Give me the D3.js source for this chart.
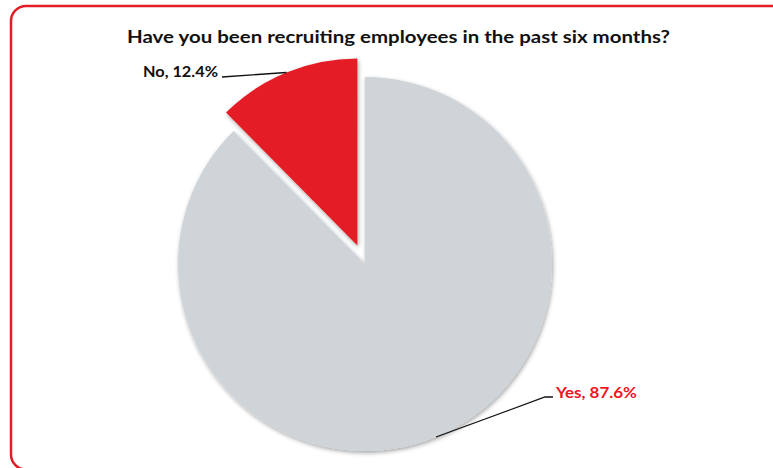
<!DOCTYPE html>
<html>
<head>
<meta charset="utf-8">
<script src="https://cdn.jsdelivr.net/npm/d3@7/dist/d3.min.js"></script>
<style>
  html, body { margin: 0; padding: 0; background: #fff; }
  svg { display: block; }
  text { font-family: Lato, "Open Sans", sans-serif; font-weight: bold; }
</style>
</head>
<body>
<svg id="chart" width="773" height="468"></svg>
<script>
// Survey answers
const categories = ["Yes", "No"];
const shares = [87.6, 12.4];
const sliceColors = ["#cfd4d8", "#e31d25"];
const labelColors = ["#f0141c", "#111111"];
const title = "Have you been recruiting employees in the past six months?";

const svg = d3.select("#chart");

// Frame (runs past the right and bottom edges of the view)
svg.append("rect")
  .attr("x", 11).attr("y", 6)
  .attr("width", 776).attr("height", 463.5)
  .attr("rx", 15).attr("ry", 15)
  .attr("fill", "#fff")
  .attr("stroke", "#e31d25")
  .attr("stroke-width", 2.5);

// Soft shadow under the slices
const defs = svg.append("defs");
const f = defs.append("filter").attr("id", "shadow")
  .attr("x", "-20%").attr("y", "-20%").attr("width", "140%").attr("height", "140%");
f.append("feDropShadow")
  .attr("dx", 1).attr("dy", 2).attr("stdDeviation", 2)
  .attr("flood-color", "#000").attr("flood-opacity", 0.35);

// Title
svg.append("text")
  .attr("x", 398.5).attr("y", 43)
  .attr("text-anchor", "middle")
  .attr("font-size", 16.5)
  .attr("fill", "#111")
  .attr("textLength", 543)
  .attr("lengthAdjust", "spacingAndGlyphs")
  .text(title);

const cx = 365, cy = 264, R = 187, explode = 20;

const pie = d3.pie().sort(null).value(d => d.value);
const arcs = pie(categories.map((c, i) => ({ name: c, value: shares[i], i })));
const arc = d3.arc().innerRadius(0).outerRadius(R);

// Offset the smaller slice away from the centre
const offsetOf = d => {
  if (d.data.name !== "No") return [0, 0];
  const a = (d.startAngle + d.endAngle) / 2;
  return [Math.sin(a) * explode, -Math.cos(a) * explode];
};

const g = svg.append("g").attr("transform", `translate(${cx},${cy})`);

g.selectAll("path.slice")
  .data(arcs)
  .join("path")
  .attr("class", "slice")
  .attr("transform", d => `translate(${offsetOf(d)})`)
  .attr("d", arc)
  .attr("fill", d => sliceColors[d.data.i])
  .attr("filter", "url(#shadow)");

// Label anchors (text position and leader elbow), relative to the pie centre
const labelLayout = {
  Yes: { tx: 191, ty: 134, elbow: [180, 133], anchor: "start", width: 81 },
  No:  { tx: -147, ty: -187, elbow: [-143, -187], anchor: "end", width: 75 }
};

arcs.forEach(d => {
  const L = labelLayout[d.data.name];
  const [ox, oy] = offsetOf(d);
  const a = (d.startAngle + d.endAngle) / 2;
  const edge = [ox + Math.sin(a) * R, oy - Math.cos(a) * R];
  const pts = d.data.name === "Yes"
    ? [edge, L.elbow, [L.elbow[0] + 8, L.elbow[1]]]
    : [edge, L.elbow];
  g.append("path")
    .attr("d", d3.line()(pts))
    .attr("fill", "none")
    .attr("stroke", "#111")
    .attr("stroke-width", 1.3);
  g.append("text")
    .attr("x", L.tx).attr("y", L.ty)
    .attr("text-anchor", L.anchor)
    .attr("font-size", 14.5)
    .attr("fill", labelColors[d.data.i])
    .attr("textLength", L.width)
    .attr("lengthAdjust", "spacingAndGlyphs")
    .text(`${d.data.name}, ${d.data.value.toFixed(1)}%`);
});
</script>
</body>
</html>
